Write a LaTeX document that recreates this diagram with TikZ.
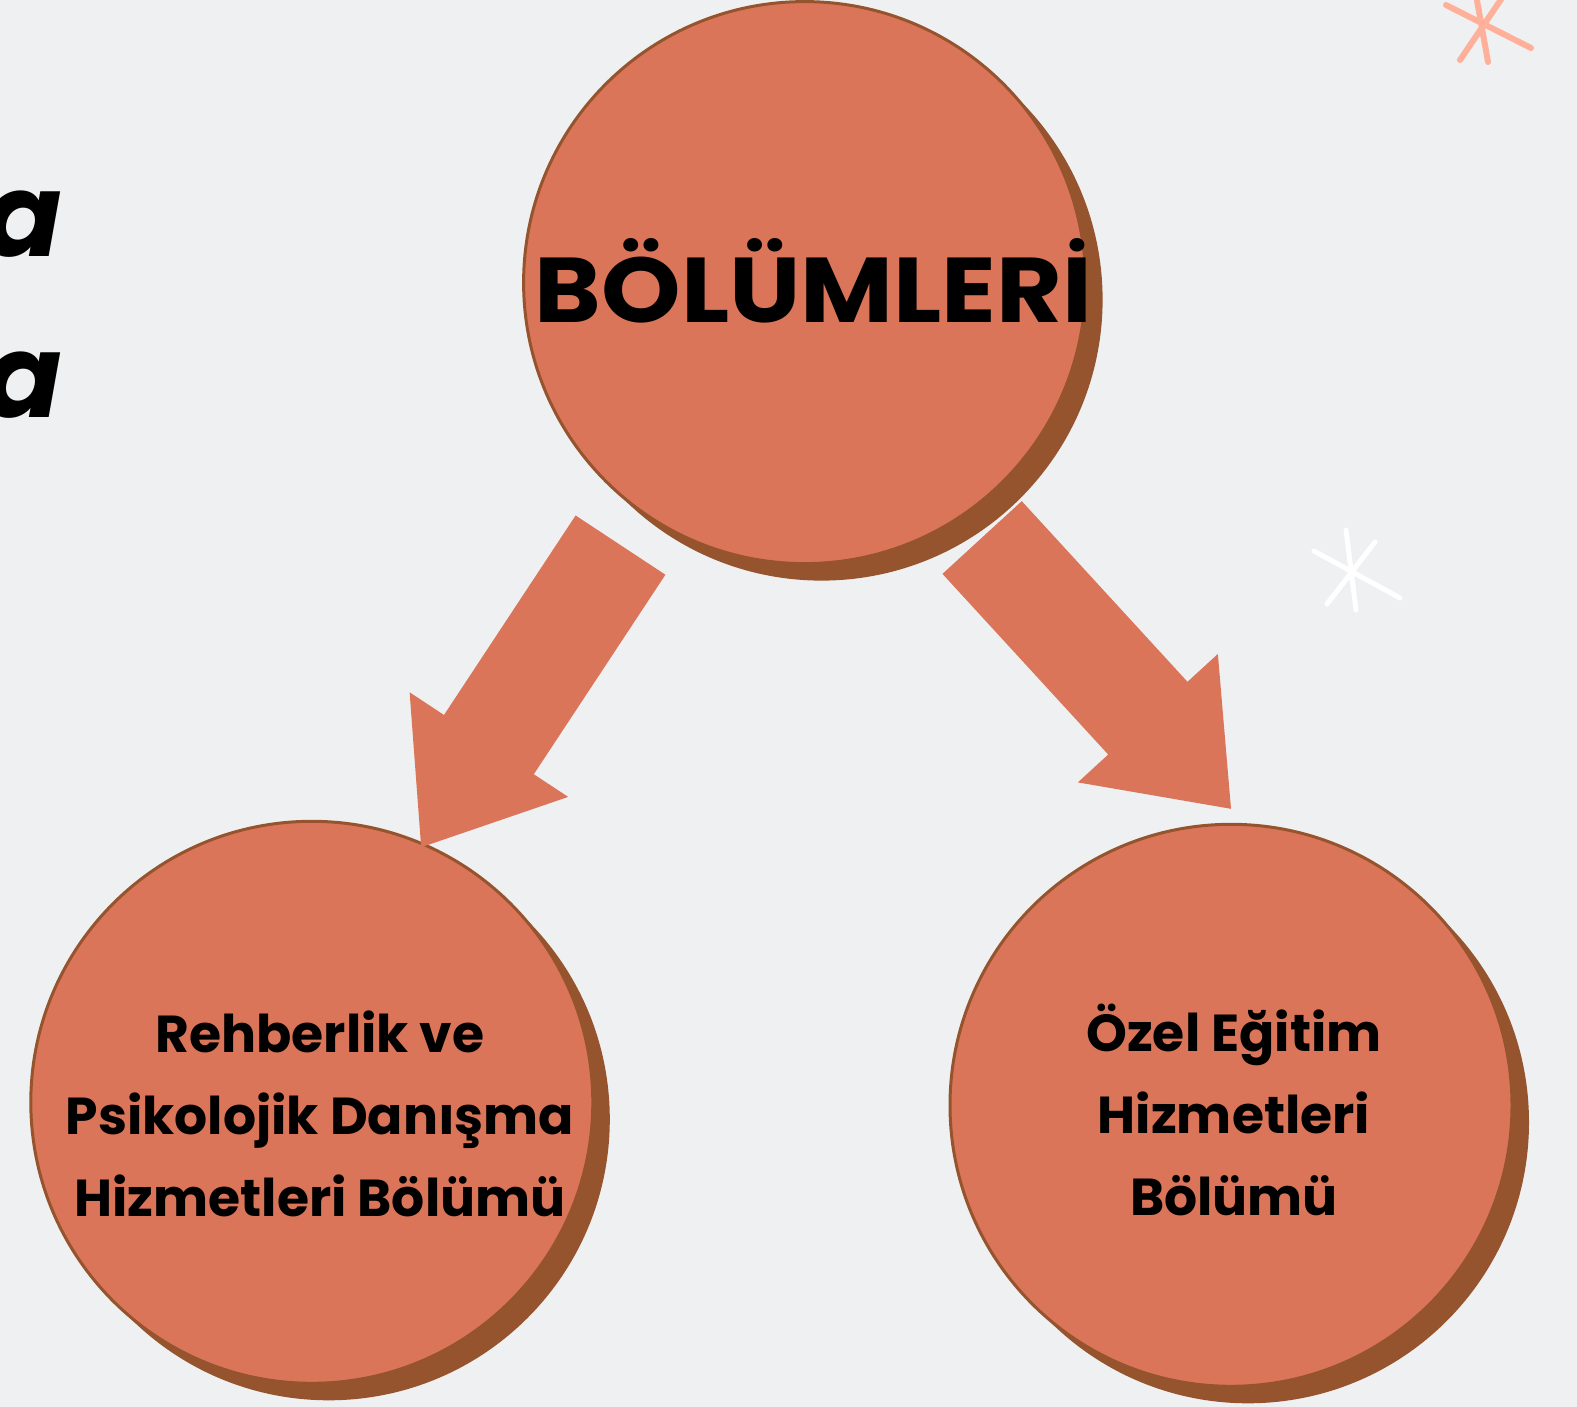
\documentclass[tikz,border=0pt]{standalone}
\usepackage{fontspec}
\setmainfont{Poppins}
\usetikzlibrary{positioning,calc,shadows}
\definecolor{zemin}{HTML}{EFF0F2}
\definecolor{daire}{HTML}{DB7559}
\definecolor{kahve}{HTML}{95542E}
\definecolor{pembe}{HTML}{FFB09A}
\newcommand{\okblok}[2]{%
  \coordinate (taban) at ($(#2)!123pt!(#1)$);
  \fill[blok] ($(#1)!53.8pt!90:(#2)$) -- ($(taban)!53.8pt!90:(#2)$)
    -- ($(taban)!95pt!90:(#2)$) -- (#2) -- ($(taban)!95pt!-90:(#2)$)
    -- ($(taban)!53.8pt!-90:(#2)$) -- ($(#1)!53.8pt!-90:(#2)$) -- cycle;}

\begin{document}
\begin{tikzpicture}[x=1pt,y=-1pt,
  every node/.style={inner sep=0pt},
  bolum/.style={circle, minimum size=562pt, fill=daire, draw=kahve, line width=3pt,
    drop shadow={shadow xshift=17pt, shadow yshift=-17pt, fill=kahve, opacity=1}},
  baslik/.style={font=\fontsize{92}{92}\selectfont\bfseries},
  yazi/.style={align=center, font=\fontsize{52}{82}\selectfont\bfseries},
  kenar/.style={font=\fontsize{116}{116}\selectfont\bfseries\itshape},
  blok/.style={fill=daire},
  yildiz/.style={line width=6pt, line cap=round}
  ]
  \fill[zemin] (0,0) rectangle (1577,1407);
  \useasboundingbox (0,0) rectangle (1577,1407);

  \node[kenar, anchor=base east] (a1) at (62,257) {a};
  \node[kenar, anchor=base east] (a2) at (62,417) {a};

  \draw[yildiz, draw=pembe] (1446,5) -- (1531,48) (1460,60) -- (1504,-5) (1476,-5) -- (1488,62);
  \draw[yildiz, draw=white, line width=5pt] (1314,551) -- (1400,598) (1327,604) -- (1375,542) (1346,530) -- (1356,610);

  \node[bolum] (ust) at (804.6,282.6) {};
  \node[bolum] (sol) at (311.8,1102.3) {};
  \node[bolum] (sag) at (1231,1105.3) {};

  \node[baslik, anchor=base] (ustyazi) at (813.6,322.8) {\scalebox{1.1}[1]{BÖLÜMLERİ}};
  \node[yazi] (solyazi) at (320,1113.7) {Rehberlik ve\\Psikolojik Danışma\\Hizmetleri Bölümü};
  \node[yazi] (sagyazi) at (1234,1109.5) {Özel Eğitim\\Hizmetleri\\Bölümü};

  \coordinate (k1) at (620.5,545.1);
  \coordinate (u1) at ([xshift=-1pt,yshift=-5pt]sol.67);
  \coordinate (k2) at (982.1,537.5);
  \coordinate (u2) at ([yshift=14pt]sag.90);
  \okblok{k1}{u1}
  \okblok{k2}{u2}
\end{tikzpicture}
\end{document}
